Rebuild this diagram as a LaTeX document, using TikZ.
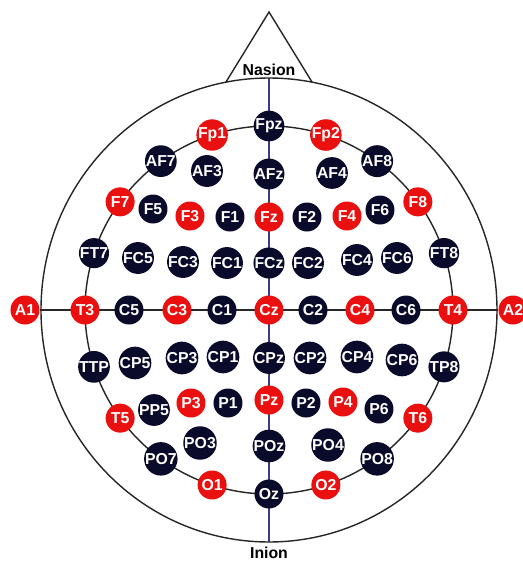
\documentclass[tikz,border=0pt]{standalone}
\usepackage{fontspec}
\setmainfont{Liberation Sans}
\usetikzlibrary{backgrounds}

\definecolor{elecred}{HTML}{EA1010}
\definecolor{elecnavy}{HTML}{0A0A2A}
\definecolor{midline}{HTML}{3C3A8C}

\begin{document}
\begin{tikzpicture}[
  font=\fontsize{9}{10.5}\selectfont\bfseries,
  ered/.style={circle,fill=elecred,text=white,minimum size=0.58cm,inner sep=0pt},
  enavy/.style={circle,fill=elecnavy,text=white,minimum size=0.58cm,inner sep=0pt},
  headline/.style={line width=0.8pt,black!85}
]
\useasboundingbox (-5.38,-5.02) rectangle (5.08,6.20);

% head, nose and the ring of electrodes
\draw[headline] (0,0) ellipse [x radius=4.56cm, y radius=4.64cm];
\draw[headline] (0,0) circle [radius=3.68cm];
\draw[headline] (-0.86,4.56) -- (0,5.96) -- (0.86,4.56);
\coordinate (nasion) at (0,4.64);
\coordinate (inion) at (0,-4.64);
\node (nasionlbl) at (0,4.81) {Nasion};
\node (inionlbl) at (0,-4.86) {Inion};

% midline and ring
\node[enavy] (Fpz) at (90:3.68) {Fpz};
\node[ered] (Fp1) at (108:3.68) {Fp1};
\node[ered] (Fp2) at (72:3.68) {Fp2};
\node[enavy] (AF7) at (126:3.68) {AF7};
\node[enavy] (AF8) at (54:3.68) {AF8};
\node[ered] (F7) at (144:3.68) {F7};
\node[ered] (F8) at (36:3.68) {F8};
\node[enavy] (FT7) at (162:3.68) {FT7};
\node[enavy] (FT8) at (18:3.68) {FT8};
\node[ered] (T3) at (180:3.68) {T3};
\node[ered] (T4) at (0:3.68) {T4};
\node[enavy] (TTP) at (198:3.68) {TTP};
\node[enavy] (TP8) at (342:3.68) {TP8};
\node[ered] (T5) at (216:3.68) {T5};
\node[ered] (T6) at (324:3.68) {T6};
\node[enavy] (PO7) at (234:3.68) {PO7};
\node[enavy] (PO8) at (306:3.68) {PO8};
\node[ered] (O1) at (252:3.68) {O1};
\node[ered] (O2) at (288:3.68) {O2};
\node[enavy] (Oz) at (270:3.68) {Oz};

% ear references
\node[ered] (A1) at (-4.88,0) {A1};
\node[ered] (A2) at (4.88,0) {A2};

% inner rows
\node[enavy] (AF3) at (-1.24,2.78) {AF3};
\node[enavy] (AFz) at (0,2.72) {AFz};
\node[enavy] (AF4) at (1.26,2.74) {AF4};

\node[enavy] (F5) at (-2.32,2.02) {F5};
\node[ered] (F3) at (-1.58,1.88) {F3};
\node[enavy] (F1) at (-0.78,1.86) {F1};
\node[ered] (Fz) at (0,1.86) {Fz};
\node[enavy] (F2) at (0.76,1.86) {F2};
\node[ered] (F4) at (1.56,1.88) {F4};
\node[enavy] (F6) at (2.22,2.00) {F6};

\node[enavy] (FC5) at (-2.62,1.04) {FC5};
\node[enavy] (FC3) at (-1.72,0.96) {FC3};
\node[enavy] (FC1) at (-0.84,0.94) {FC1};
\node[enavy] (FCz) at (0,0.94) {FCz};
\node[enavy] (FC2) at (0.78,0.94) {FC2};
\node[enavy] (FC4) at (1.76,1.00) {FC4};
\node[enavy] (FC6) at (2.56,1.04) {FC6};

\node[enavy] (C5) at (-2.80,0) {C5};
\node[ered] (C3) at (-1.84,0) {C3};
\node[enavy] (C1) at (-0.94,0) {C1};
\node[ered] (Cz) at (0,0) {Cz};
\node[enavy] (C2) at (0.88,0) {C2};
\node[ered] (C4) at (1.82,0) {C4};
\node[enavy] (C6) at (2.74,0) {C6};

\node[enavy] (CP5) at (-2.68,-1.06) {CP5};
\node[enavy] (CP3) at (-1.74,-0.96) {CP3};
\node[enavy] (CP1) at (-0.92,-0.94) {CP1};
\node[enavy] (CPz) at (0,-0.96) {CPz};
\node[enavy] (CP2) at (0.82,-0.96) {CP2};
\node[enavy] (CP4) at (1.76,-0.94) {CP4};
\node[enavy] (CP6) at (2.66,-1.00) {CP6};

\node[enavy] (PP5) at (-2.30,-2.00) {PP5};
\node[ered] (P3) at (-1.56,-1.86) {P3};
\node[enavy] (P1) at (-0.82,-1.86) {P1};
\node[ered] (Pz) at (0,-1.80) {Pz};
\node[enavy] (P2) at (0.74,-1.86) {P2};
\node[ered] (P4) at (1.48,-1.84) {P4};
\node[enavy] (P6) at (2.20,-1.98) {P6};

\node[enavy] (PO3) at (-1.38,-2.66) {PO3};
\node[enavy] (POz) at (0,-2.72) {POz};
\node[enavy] (PO4) at (1.18,-2.70) {PO4};

\begin{scope}[on background layer]
\draw[headline] (A1) -- (A2);
\draw[line width=0.8pt,midline] (nasion) -- (inion);
\end{scope}
\end{tikzpicture}
\end{document}
